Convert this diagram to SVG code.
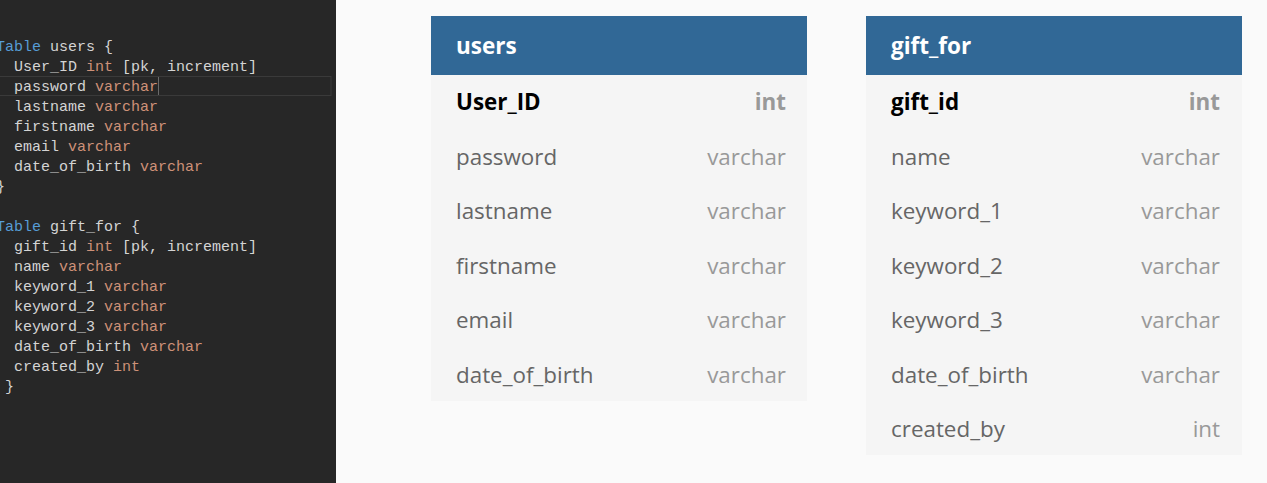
<svg xmlns="http://www.w3.org/2000/svg" width="1267" height="483" viewBox="0 0 1267 483">
<style>
.code{font-family:"Liberation Mono","DejaVu Sans Mono",monospace;font-size:15px;fill:#d4d4d4;white-space:pre}
.kw{fill:#569cd6}
.ty{fill:#ce9178}
.hdr{font-family:"Open Sans","Noto Sans",sans-serif;font-size:22.5px;font-weight:700;fill:#ffffff}
.fn{font-family:"Open Sans","Noto Sans",sans-serif;font-size:22.4px;fill:#666666}
.ft{font-family:"Open Sans","Noto Sans",sans-serif;font-size:22.4px;fill:#999999;text-anchor:end}
.pk{font-weight:700;fill:#000000}
.pkt{font-weight:700}
</style>
<rect x="0" y="0" width="1267" height="483" fill="#fafafa"/>
<g id="editor">
<rect x="0" y="0" width="336" height="483" fill="#272727"/>
<rect x="-1" y="76.5" width="332" height="19" fill="none" stroke="#3a3a3a" stroke-width="1"/>
<line x1="158.5" y1="77" x2="158.5" y2="95" stroke="#6a6a6a" stroke-width="1"/>
<text class="code" x="-4" y="51" xml:space="preserve"><tspan class="kw">Table</tspan> users {</text>
<text class="code" x="-4" y="71" xml:space="preserve">  User_ID <tspan class="ty">int</tspan> [pk, increment]</text>
<text class="code" x="-4" y="91" xml:space="preserve">  password <tspan class="ty">varchar</tspan></text>
<text class="code" x="-4" y="111" xml:space="preserve">  lastname <tspan class="ty">varchar</tspan></text>
<text class="code" x="-4" y="131" xml:space="preserve">  firstname <tspan class="ty">varchar</tspan></text>
<text class="code" x="-4" y="151" xml:space="preserve">  email <tspan class="ty">varchar</tspan></text>
<text class="code" x="-4" y="171" xml:space="preserve">  date_of_birth <tspan class="ty">varchar</tspan></text>
<text class="code" x="-4" y="191" xml:space="preserve">}</text>
<text class="code" x="-4" y="231" xml:space="preserve"><tspan class="kw">Table</tspan> gift_for {</text>
<text class="code" x="-4" y="251" xml:space="preserve">  gift_id <tspan class="ty">int</tspan> [pk, increment]</text>
<text class="code" x="-4" y="271" xml:space="preserve">  name <tspan class="ty">varchar</tspan></text>
<text class="code" x="-4" y="291" xml:space="preserve">  keyword_1 <tspan class="ty">varchar</tspan></text>
<text class="code" x="-4" y="311" xml:space="preserve">  keyword_2 <tspan class="ty">varchar</tspan></text>
<text class="code" x="-4" y="331" xml:space="preserve">  keyword_3 <tspan class="ty">varchar</tspan></text>
<text class="code" x="-4" y="351" xml:space="preserve">  date_of_birth <tspan class="ty">varchar</tspan></text>
<text class="code" x="-4" y="371" xml:space="preserve">  created_by <tspan class="ty">int</tspan></text>
<text class="code" x="-4" y="391" xml:space="preserve"> }</text>
</g>
<g id="users">
<rect x="431" y="16" width="376" height="385" fill="#f5f5f5"/>
<rect x="431" y="16" width="376" height="59" fill="#316896"/>
<text class="hdr" x="456" y="54">users</text>
<text class="fn pk" x="456" y="110">User_ID</text><text class="ft pkt" x="786" y="110">int</text>
<text class="fn" x="456" y="165">password</text><text class="ft" x="786" y="165">varchar</text>
<text class="fn" x="456" y="219">lastname</text><text class="ft" x="786" y="219">varchar</text>
<text class="fn" x="456" y="274">firstname</text><text class="ft" x="786" y="274">varchar</text>
<text class="fn" x="456" y="328">email</text><text class="ft" x="786" y="328">varchar</text>
<text class="fn" x="456" y="383">date_of_birth</text><text class="ft" x="786" y="383">varchar</text>
</g>
<g id="gift_for">
<rect x="866" y="16" width="376" height="439" fill="#f5f5f5"/>
<rect x="866" y="16" width="376" height="59" fill="#316896"/>
<text class="hdr" x="891" y="54">gift_for</text>
<text class="fn pk" x="891" y="110">gift_id</text><text class="ft pkt" x="1220" y="110">int</text>
<text class="fn" x="891" y="165">name</text><text class="ft" x="1220" y="165">varchar</text>
<text class="fn" x="891" y="219">keyword_1</text><text class="ft" x="1220" y="219">varchar</text>
<text class="fn" x="891" y="274">keyword_2</text><text class="ft" x="1220" y="274">varchar</text>
<text class="fn" x="891" y="328">keyword_3</text><text class="ft" x="1220" y="328">varchar</text>
<text class="fn" x="891" y="383">date_of_birth</text><text class="ft" x="1220" y="383">varchar</text>
<text class="fn" x="891" y="437">created_by</text><text class="ft" x="1220" y="437">int</text>
</g>
<g id="connectors"/>
</svg>
